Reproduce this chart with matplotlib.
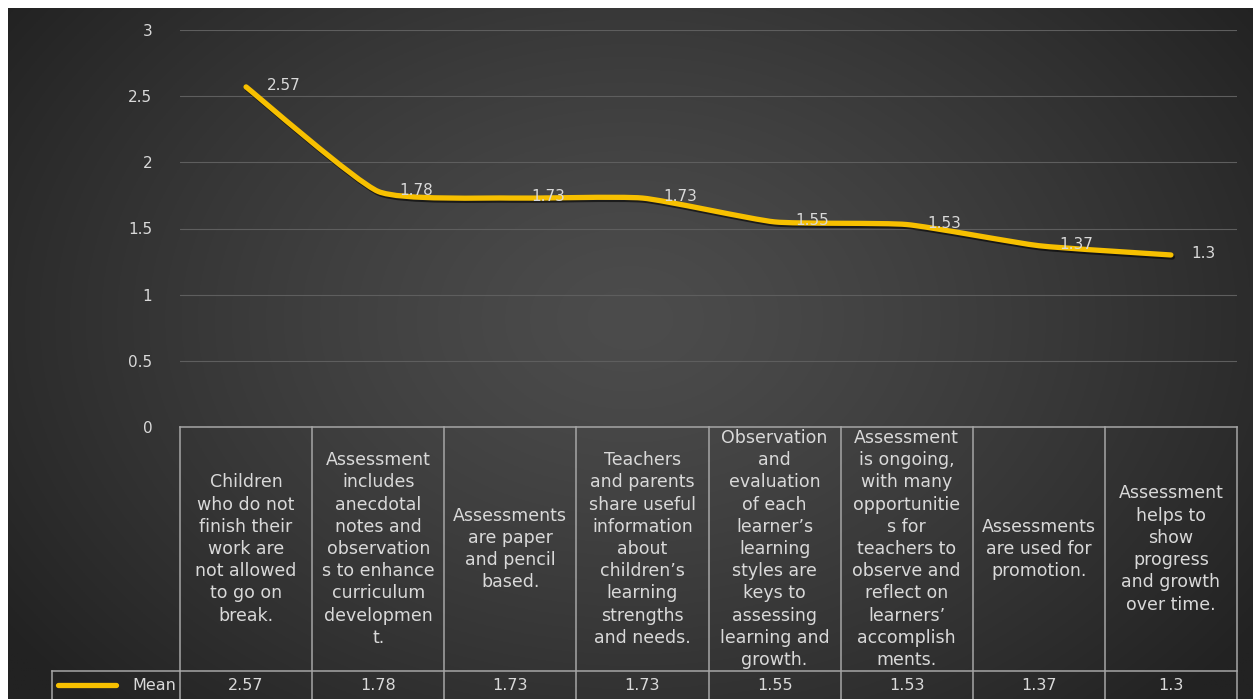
import numpy as np
import matplotlib.pyplot as plt
from matplotlib.path import Path
from matplotlib.patches import PathPatch
from matplotlib.lines import Line2D
import matplotlib.patheffects as pe

# Datos
categorias = [
    "Children\nwho do not\nfinish their\nwork are\nnot allowed\nto go on\nbreak.",
    "Assessment\nincludes\nanecdotal\nnotes and\nobservation\ns to enhance\ncurriculum\ndevelopmen\nt.",
    "Assessments\nare paper\nand pencil\nbased.",
    "Teachers\nand parents\nshare useful\ninformation\nabout\nchildren\u2019s\nlearning\nstrengths\nand needs.",
    "Observation\nand\nevaluation\nof each\nlearner\u2019s\nlearning\nstyles are\nkeys to\nassessing\nlearning and\ngrowth.",
    "Assessment\nis ongoing,\nwith many\nopportunitie\ns for\nteachers to\nobserve and\nreflect on\nlearners\u2019\naccomplish\nments.",
    "Assessments\nare used for\npromotion.",
    "Assessment\nhelps to\nshow\nprogress\nand growth\nover time.",
]
media = [2.57, 1.78, 1.73, 1.73, 1.55, 1.53, 1.37, 1.3]
serie = "Mean"
yticks = [0, 0.5, 1, 1.5, 2, 2.5, 3]

W, H = 1253, 699
TXT = "#D9D9D9"
GOLD = "#F7C000"
BORDE = "#A6A6A6"

fig = plt.figure(figsize=(W / 100, H / 100), dpi=100)
fig.patch.set_facecolor("white")

# Fondo con degradado radial
bg = fig.add_axes([8 / W, 0, 1 - 8 / W, 1 - 8 / H])
yy, xx = np.mgrid[0:1:350j, 0:1:700j]
r = np.sqrt(((xx - 0.5) * 1.3) ** 2 + ((yy - 0.45) * 1.0) ** 2)
r = np.clip(r / 0.8, 0, 1)
val = (0x4c - (0x4c - 0x22) * r ** 1.3) / 255
img = np.dstack([val, val, val])
bg.imshow(img, extent=[0, 1, 0, 1], aspect="auto", origin="upper")
bg.axis("off")

# Grafico principal
ax = fig.add_axes([180 / W, (H - 427) / H, (1237 - 180) / W, (427 - 30) / H])
ax.patch.set_alpha(0)
ax.set_xlim(-0.5, len(media) - 0.5)
ax.set_ylim(0, 3)
for s in ax.spines.values():
    s.set_visible(False)
ax.set_xticks([])
ax.set_yticks(yticks)
ax.set_yticklabels([f"{t:g}" for t in yticks], color=TXT, fontsize=11)
ax.tick_params(axis="y", length=0, pad=20)
ax.grid(axis="y", color="#5E5E5E", linewidth=0.8)
ax.set_axisbelow(True)

# Linea suavizada (estilo Excel, tension baja)
x = np.arange(len(media))
y = np.array(media)
pts = np.column_stack([x, y])
verts = [pts[0]]
codes = [Path.MOVETO]
n = len(pts)
k = 1 / 12
for i in range(n - 1):
    p0 = pts[max(i - 1, 0)]
    p1 = pts[i]
    p2 = pts[i + 1]
    p3 = pts[min(i + 2, n - 1)]
    c1 = p1 + (p2 - p0) * k
    c2 = p2 - (p3 - p1) * k
    verts += [c1, c2, p2]
    codes += [Path.CURVE4] * 3
linea = PathPatch(Path(verts, codes), facecolor="none", edgecolor=GOLD,
                  linewidth=3.8, capstyle="round", joinstyle="round", zorder=3)
linea.set_path_effects([pe.SimpleLineShadow(offset=(1, -1.5), shadow_color="black", alpha=0.6),
                        pe.Normal()])
ax.add_patch(linea)

for i, v in enumerate(media):
    ax.annotate(f"{v:g}", (i, v), xytext=(15, 1), textcoords="offset points",
                va="center", ha="left", color=TXT, fontsize=11, zorder=4)

# Tabla de datos
tab = fig.add_axes([180 / W, 0, (1237 - 180) / W, (H - 427) / H])
tab.patch.set_alpha(0)
tab.set_xlim(-0.5, len(media) - 0.5)
tab.set_ylim(0, H - 427)
tab.axis("off")
fila = 28
alto = H - 427
for b in np.arange(-0.5, len(media) + 0.5, 1):
    tab.plot([b, b], [0, alto], color=BORDE, lw=1.1, clip_on=False)
tab.plot([-0.5, len(media) - 0.5], [alto, alto], color=BORDE, lw=1.1, clip_on=False)
tab.plot([-0.5, len(media) - 0.5], [fila, fila], color=BORDE, lw=1.1, clip_on=False)
for i, (c, v) in enumerate(zip(categorias, media)):
    tab.text(i, fila + (alto - fila) / 2, c, ha="center", va="center",
             color=TXT, fontsize=12.5, linespacing=1.3)
    tab.text(i, fila / 2, f"{v:g}", ha="center", va="center", color=TXT, fontsize=11.5)

# Celda de leyenda
yf = 14 / H
fig.add_artist(Line2D([52 / W, 180 / W], [fila / H, fila / H], color=BORDE, lw=1.1))
fig.add_artist(Line2D([52 / W, 52 / W], [0, fila / H], color=BORDE, lw=1.1))
fig.add_artist(Line2D([58 / W, 116 / W], [yf, yf], color=GOLD, lw=3.8, solid_capstyle="round"))
fig.text(176 / W, yf, serie, ha="right", va="center", color=TXT, fontsize=11.5)

fig.savefig("out.png", dpi=100)
